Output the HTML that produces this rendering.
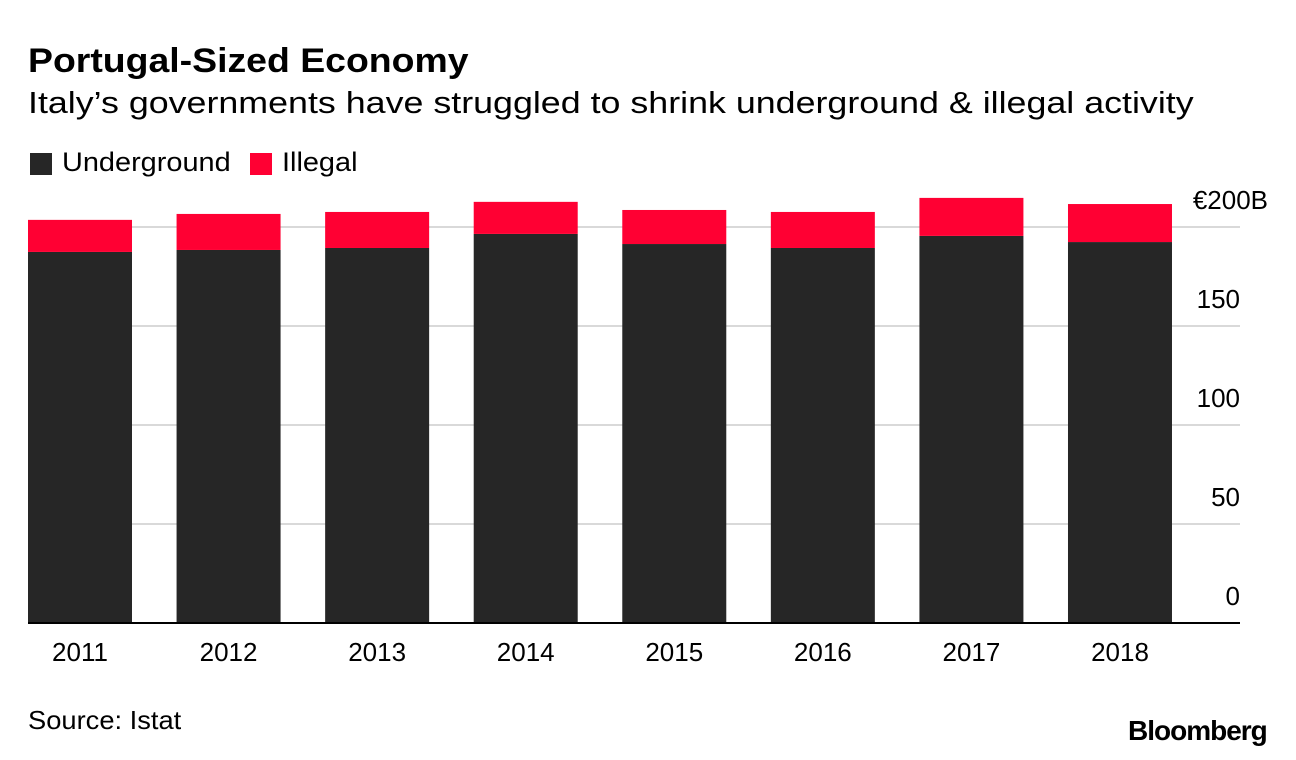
<!DOCTYPE html>
<html><head><meta charset="utf-8">
<style>
body{margin:0;background:#fff;font-family:"Liberation Sans",sans-serif;}
#wrap{position:relative;width:1296px;height:760px;overflow:hidden;}
.t{position:absolute;white-space:nowrap;color:#000;transform-origin:0 0;}
</style></head>
<body>
<div id="wrap">
<div class="t" style="left:28px;top:42px;font-size:34px;font-weight:bold;transform:scaleX(1.1)">Portugal-Sized Economy</div>
<div class="t" style="left:28px;top:85px;font-size:31px;transform:scaleX(1.155)">Italy’s governments have struggled to shrink underground &amp; illegal activity</div>
<div>
<div style="position:absolute;left:30px;top:153px;width:22px;height:22px;background:#262626"></div>
<div class="t" style="left:62px;top:147px;font-size:27px;transform:scaleX(1.07)">Underground</div>
<div style="position:absolute;left:250px;top:153px;width:22px;height:22px;background:#ff0033"></div>
<div class="t" style="left:282px;top:147px;font-size:27px;transform:scaleX(1.07)">Illegal</div>
</div>
<svg id="chart" width="1296" height="760" style="position:absolute;left:0;top:0"></svg>
<div class="t" style="left:28px;top:705px;font-size:26px;transform:scaleX(1.05)">Source: Istat</div>
<div class="t" style="left:1128px;top:715px;font-size:28px;font-weight:bold;letter-spacing:-1px">Bloomberg</div>
</div>
<script>
const categories=["2011","2012","2013","2014","2015","2016","2017","2018"];
const underground=[187.4,188.4,189.4,196.5,191.4,189.4,195.5,192.4];
const illegal=[16.2,18.2,18.2,16.2,17.2,18.2,19.2,19.2];
const ticks=[0,50,100,150,200];
const tickLabels=["0","50","100","150","€200B"];
const NS="http://www.w3.org/2000/svg";
const svg=document.getElementById('chart');
const y0=623,pxPer=1.98;
function y(v){return y0-v*pxPer;}
function x(i){return 28+i*148.57;}
const bw=104;
function mk(tag,attrs){const e=document.createElementNS(NS,tag);for(const k in attrs)e.setAttribute(k,attrs[k]);svg.appendChild(e);return e;}
ticks.forEach((t,i)=>{
  if(t>0){const l=mk('line',{x1:28,x2:1240,y1:y(t),y2:y(t),stroke:'#d9d9d9','stroke-width':2});
  
  }
  const isTop=(i===ticks.length-1);
  const tx=mk('text',{x:isTop?1268:1240,y:y(t)-18,'text-anchor':'end','font-size':26,'font-family':'Liberation Sans, sans-serif',fill:'#000'});
  tx.textContent=tickLabels[i];
  
  
});
categories.forEach((c,i)=>{
  const u=mk('rect',{x:x(i),y:y(underground[i]),width:bw,height:underground[i]*pxPer,fill:'#262626'});
  
  
  const il=mk('rect',{x:x(i),y:y(underground[i]+illegal[i]),width:bw,height:illegal[i]*pxPer,fill:'#ff0033'});
  
  
  const tx=mk('text',{x:x(i)+bw/2,y:661,'text-anchor':'middle','font-size':26,'font-family':'Liberation Sans, sans-serif',fill:'#000'});
  tx.textContent=c;
  
  
});
const ax=mk('line',{x1:28,x2:1240,y1:y0,y2:y0,stroke:'#000','stroke-width':2});


</script>
</body></html>
